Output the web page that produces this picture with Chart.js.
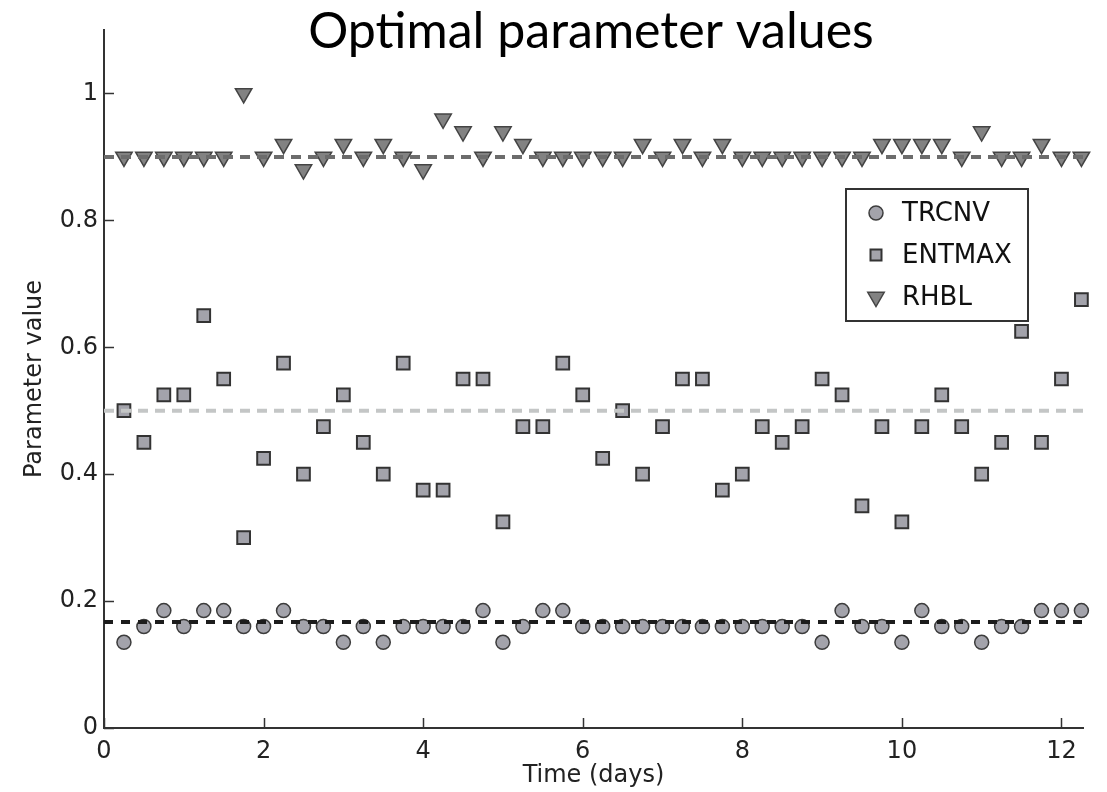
<!DOCTYPE html>
<html>
<head>
<meta charset="utf-8">
<script src="https://cdn.jsdelivr.net/npm/chart.js@4"></script>
<style>
html,body{margin:0;padding:0;background:#ffffff;}
#wrap{width:1107px;height:792px;position:relative;}
</style>
</head>
<body>
<div id="wrap"><canvas id="c" width="1107" height="792"></canvas></div>
<script>
// ---- data ----
const days = [0.25,0.5,0.75,1,1.25,1.5,1.75,2,2.25,2.5,2.75,3,3.25,3.5,3.75,4,4.25,4.5,4.75,5,5.25,5.5,5.75,6,
              6.25,6.5,6.75,7,7.25,7.5,7.75,8,8.25,8.5,8.75,9,9.25,9.5,9.75,10,10.25,10.5,10.75,11,11.25,11.5,11.75,12,12.25];
const trcnv = [0.135,0.16,0.185,0.16,0.185,0.185,0.16,0.16,0.185,0.16,0.16,0.135,0.16,0.135,0.16,0.16,0.16,0.16,0.185,0.135,0.16,0.185,0.185,0.16,
               0.16,0.16,0.16,0.16,0.16,0.16,0.16,0.16,0.16,0.16,0.16,0.135,0.185,0.16,0.16,0.135,0.185,0.16,0.16,0.135,0.16,0.16,0.185,0.185,0.185];
const entmax = [0.5,0.45,0.525,0.525,0.65,0.55,0.3,0.425,0.575,0.4,0.475,0.525,0.45,0.4,0.575,0.375,0.375,0.55,0.55,0.325,0.475,0.475,0.575,0.525,
                0.425,0.5,0.4,0.475,0.55,0.55,0.375,0.4,0.475,0.45,0.475,0.55,0.525,0.35,0.475,0.325,0.475,0.525,0.475,0.4,0.45,0.625,0.45,0.55,0.675];
const rhbl = [0.9,0.9,0.9,0.9,0.9,0.9,1.0,0.9,0.92,0.88,0.9,0.92,0.9,0.92,0.9,0.88,0.96,0.94,0.9,0.94,0.92,0.9,0.9,0.9,
              0.9,0.9,0.92,0.9,0.92,0.9,0.92,0.9,0.9,0.9,0.9,0.9,0.9,0.9,0.92,0.92,0.92,0.92,0.9,0.94,0.9,0.9,0.92,0.9,0.9];
const seriesNames = ['TRCNV','ENTMAX','RHBL'];
const refLevels = [0.167, 0.5, 0.9];          // dashed reference (default) values
const xRange = [0, 12.27];
const yRange = [0, 1.1];
const xTicks = [0,2,4,6,8,10,12];
const yTicks = [0,0.2,0.4,0.6,0.8,1];
const titleText = 'Optimal parameter values';
const xTitle = 'Time (days)';
const yTitle = 'Parameter value';

// ---- styles ----
const AXIS_FONT = 'DejaVu Sans';
const markerStyles = [
  {pointStyle:'circle',   radius:7,   rotation:0,   fill:'#a3a3ab', stroke:'#3c3c3c', bw:1.5},
  {pointStyle:'rect',     radius:9,   rotation:0,   fill:'#a3a3ab', stroke:'#333333', bw:2},
  {pointStyle:'triangle', radius:9.5, rotation:180, fill:'#828282', stroke:'#444444', bw:1.5}
];
const lineStyles = [
  {color:'#1c1c1c', dash:[9,8]},
  {color:'#c4c6c6', dash:[10,7]},
  {color:'#6c6c6c', dash:[10,7]}
];

const seriesValues = [trcnv, entmax, rhbl];
const toPts = arr => arr.map((v,i)=>({x:days[i], y:v}));

const datasets = [];
refLevels.forEach((lv,i)=>{
  datasets.push({
    type:'line', label: seriesNames[i]+' default',
    data:[{x:xRange[0],y:lv},{x:xRange[1],y:lv}],
    borderColor: lineStyles[i].color, borderWidth:4, borderDash: lineStyles[i].dash,
    pointRadius:0, fill:false, order:0, clip:false
  });
});
seriesValues.forEach((arr,i)=>{
  const m = markerStyles[i];
  datasets.push({
    type:'scatter', label: seriesNames[i], data: toPts(arr),
    pointStyle:m.pointStyle, pointRadius:m.radius, pointRotation:m.rotation,
    backgroundColor:m.fill, borderColor:m.stroke, borderWidth:m.bw,
    pointHoverRadius:m.radius, order:1, clip:false
  });
});

const inwardTicks = {
  id:'inwardTicks',
  afterDraw(chart){
    const {ctx, chartArea:a, scales:{x,y}} = chart;
    ctx.save();
    ctx.strokeStyle = '#333'; ctx.lineWidth = 1.5;
    xTicks.forEach(v=>{
      const px = Math.round(x.getPixelForValue(v))+0.5;
      ctx.beginPath(); ctx.moveTo(px, a.bottom); ctx.lineTo(px, a.bottom-10); ctx.stroke();
    });
    yTicks.forEach(v=>{
      const py = Math.round(y.getPixelForValue(v))+0.5;
      ctx.beginPath(); ctx.moveTo(a.left, py); ctx.lineTo(a.left+10, py); ctx.stroke();
    });
    ctx.restore();
  }
};

const bigTitle = {
  id:'bigTitle',
  afterDraw(chart){
    const ctx = chart.ctx;
    ctx.save();
    let size = 40;
    ctx.font = size+'px Lato';
    const w = ctx.measureText(titleText).width;
    size = size * 566 / w;
    ctx.font = size.toFixed(1)+'px Lato';
    ctx.fillStyle = '#000';
    ctx.textAlign = 'center'; ctx.textBaseline = 'alphabetic';
    ctx.fillText(titleText, 591, 48);
    ctx.restore();
  }
};

const boxLegend = {
  id:'boxLegend',
  afterDraw(chart){
    const ctx = chart.ctx;
    const bx = 846, by = 189, bw = 182, bh = 132;
    ctx.save();
    ctx.fillStyle = '#fff';
    ctx.fillRect(bx, by, bw, bh);
    ctx.strokeStyle = '#333'; ctx.lineWidth = 2;
    ctx.strokeRect(bx, by, bw, bh);
    const rows = [213, 255, 297];
    const mx = 876;
    seriesNames.forEach((name,i)=>{
      const m = markerStyles[i];
      const cy = rows[i];
      ctx.fillStyle = m.fill; ctx.strokeStyle = m.stroke; ctx.lineWidth = m.bw;
      ctx.beginPath();
      if (m.pointStyle==='circle'){
        ctx.arc(mx, cy, 7, 0, Math.PI*2);
      } else if (m.pointStyle==='rect'){
        ctx.rect(mx-5.5, cy-5.5, 11, 11);
      } else {
        const r = 9.5;
        ctx.moveTo(mx - r*0.866, cy - r*0.5);
        ctx.lineTo(mx + r*0.866, cy - r*0.5);
        ctx.lineTo(mx, cy + r);
        ctx.closePath();
      }
      ctx.fill(); ctx.stroke();
      ctx.fillStyle = '#111';
      ctx.font = '26px "'+AXIS_FONT+'"';
      ctx.textAlign = 'left'; ctx.textBaseline = 'middle';
      ctx.fillText(name, 902, cy+1);
    });
    ctx.restore();
  }
};

new Chart(document.getElementById('c'), {
  type:'scatter',
  data:{datasets},
  plugins:[inwardTicks, boxLegend, bigTitle],
  options:{
    responsive:false, animation:false, devicePixelRatio:1,
    layout:{padding:{top:30, right:24, left:0, bottom:0}},
    plugins:{legend:{display:false}, tooltip:{enabled:false}, title:{display:false}},
    scales:{
      x:{
        type:'linear', min:xRange[0], max:xRange[1],
        afterBuildTicks: s => { s.ticks = xTicks.map(v=>({value:v})); },
        afterFit: s => { s.height = 64; },
        grid:{display:false, drawTicks:false, tickLength:0},
        border:{display:true, color:'#333', width:2},
        ticks:{padding:9, color:'#222', font:{family:AXIS_FONT, size:24}, maxRotation:0, autoSkip:false,
               callback: v => String(v)},
        title:{display:true, text:xTitle, color:'#222', font:{family:AXIS_FONT, size:24}, padding:{top:0, bottom:2}}
      },
      y:{
        type:'linear', min:yRange[0], max:yRange[1],
        afterBuildTicks: s => { s.ticks = yTicks.map(v=>({value:v})); },
        afterFit: s => { s.width = 104; },
        grid:{display:false, drawTicks:false, tickLength:0},
        border:{display:true, color:'#333', width:2},
        ticks:{padding:6, color:'#222', font:{family:AXIS_FONT, size:24}, autoSkip:false,
               callback: v => String(v)},
        title:{display:true, text:yTitle, color:'#222', font:{family:AXIS_FONT, size:24}, padding:{top:20, bottom:0}}
      }
    }
  }
});
</script>
</body>
</html>
